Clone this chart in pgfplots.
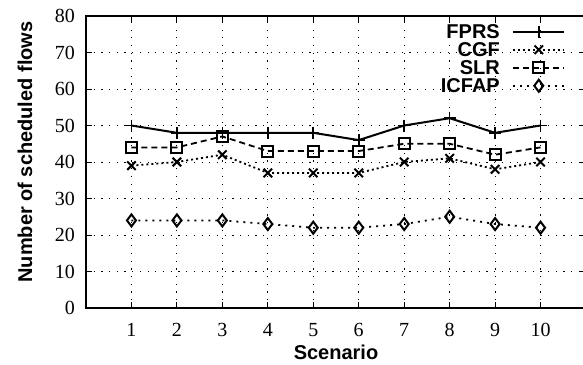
\documentclass[border=0pt]{standalone}
\usepackage{fontspec}
\setmainfont{Liberation Serif}
\newfontfamily\hv{Liberation Sans}
\usepackage{pgfplots}
\pgfplotsset{compat=1.18}
\begin{document}
\begin{tikzpicture}
\begin{axis}[
  name=ax,
  scale only axis,
  width=500pt, height=292pt,
  xmin=0, xmax=11, ymin=0, ymax=80,
  xtick={1,...,10}, ytick={0,10,...,80},
  axis line style={line width=1.2pt},
  major tick style={line width=1pt, black},
  major tick length=6pt,
  tick align=inside,
  grid=major,
  major grid style={black, line width=1pt, dash pattern=on 1.2pt off 6.5pt},
  /pgf/number format/assume math mode=true,
  tick label style={font=\fontsize{20}{24}\selectfont},
  xticklabel style={anchor=base, yshift=-28pt, inner sep=0pt},
  yticklabel style={anchor=east, xshift=-11pt, inner sep=0pt},
  every axis x label/.style={at={(axis description cs:0.5,-0.178)}, anchor=base, font=\hv\bfseries\fontsize{20}{24}\selectfont},
  every axis y label/.style={at={(axis description cs:-0.122,0.534)}, anchor=center, rotate=90, font=\hv\bfseries\fontsize{20}{24}\selectfont},
  xlabel={Scenario},
  ylabel={Number of scheduled flows},
  legend plot pos=right,
  legend cell align=right,
  legend image code/.code={\draw[mark repeat=2,mark phase=2,#1] plot coordinates {(0pt,0pt) (26pt,0pt) (51pt,0pt)};},
  legend style={draw=none, fill=none, at={(rel axis cs:0.958,0.969)}, anchor=north east, inner sep=0pt,
    font=\hv\bfseries\fontsize{20}{20}\selectfont, column sep=12pt, row sep=5pt,
    nodes={inner sep=0pt, text height=13pt, text depth=0pt}},
]
\addplot[black, line width=2pt, mark=+, mark size=6pt, mark options={solid, line width=1.6pt}]
  coordinates {(1,50) (2,48) (3,48) (4,48) (5,48) (6,46) (7,50) (8,52) (9,48) (10,50)};
\addlegendentry{FPRS}
\addplot[black, line width=1.8pt, dash pattern=on 2pt off 3pt, mark=x, mark size=6pt, mark options={solid, line width=2pt}]
  coordinates {(1,39) (2,40) (3,42) (4,37) (5,37) (6,37) (7,40) (8,41) (9,38) (10,40)};
\addlegendentry{CGF}
\addplot[black, line width=1.8pt, dash pattern=on 6pt off 4pt, mark=square, mark size=5.5pt, mark options={solid, line width=2pt}]
  coordinates {(1,44) (2,44) (3,47) (4,43) (5,43) (6,43) (7,45) (8,45) (9,42) (10,44)};
\addlegendentry{SLR}
\addplot[black, line width=1.8pt, dash pattern=on 2pt off 5pt, mark=diamond, mark size=6pt, mark options={solid, line width=2pt}]
  coordinates {(1,24) (2,24) (3,24) (4,23) (5,22) (6,22) (7,23) (8,25) (9,23) (10,22)};
\addlegendentry{ICFAP}
\end{axis}
\pgfresetboundingbox
\useasboundingbox ([shift={(-86pt,-56pt)}]ax.south west) rectangle ([shift={(497pt,308pt)}]ax.south west);
\end{tikzpicture}
\end{document}
